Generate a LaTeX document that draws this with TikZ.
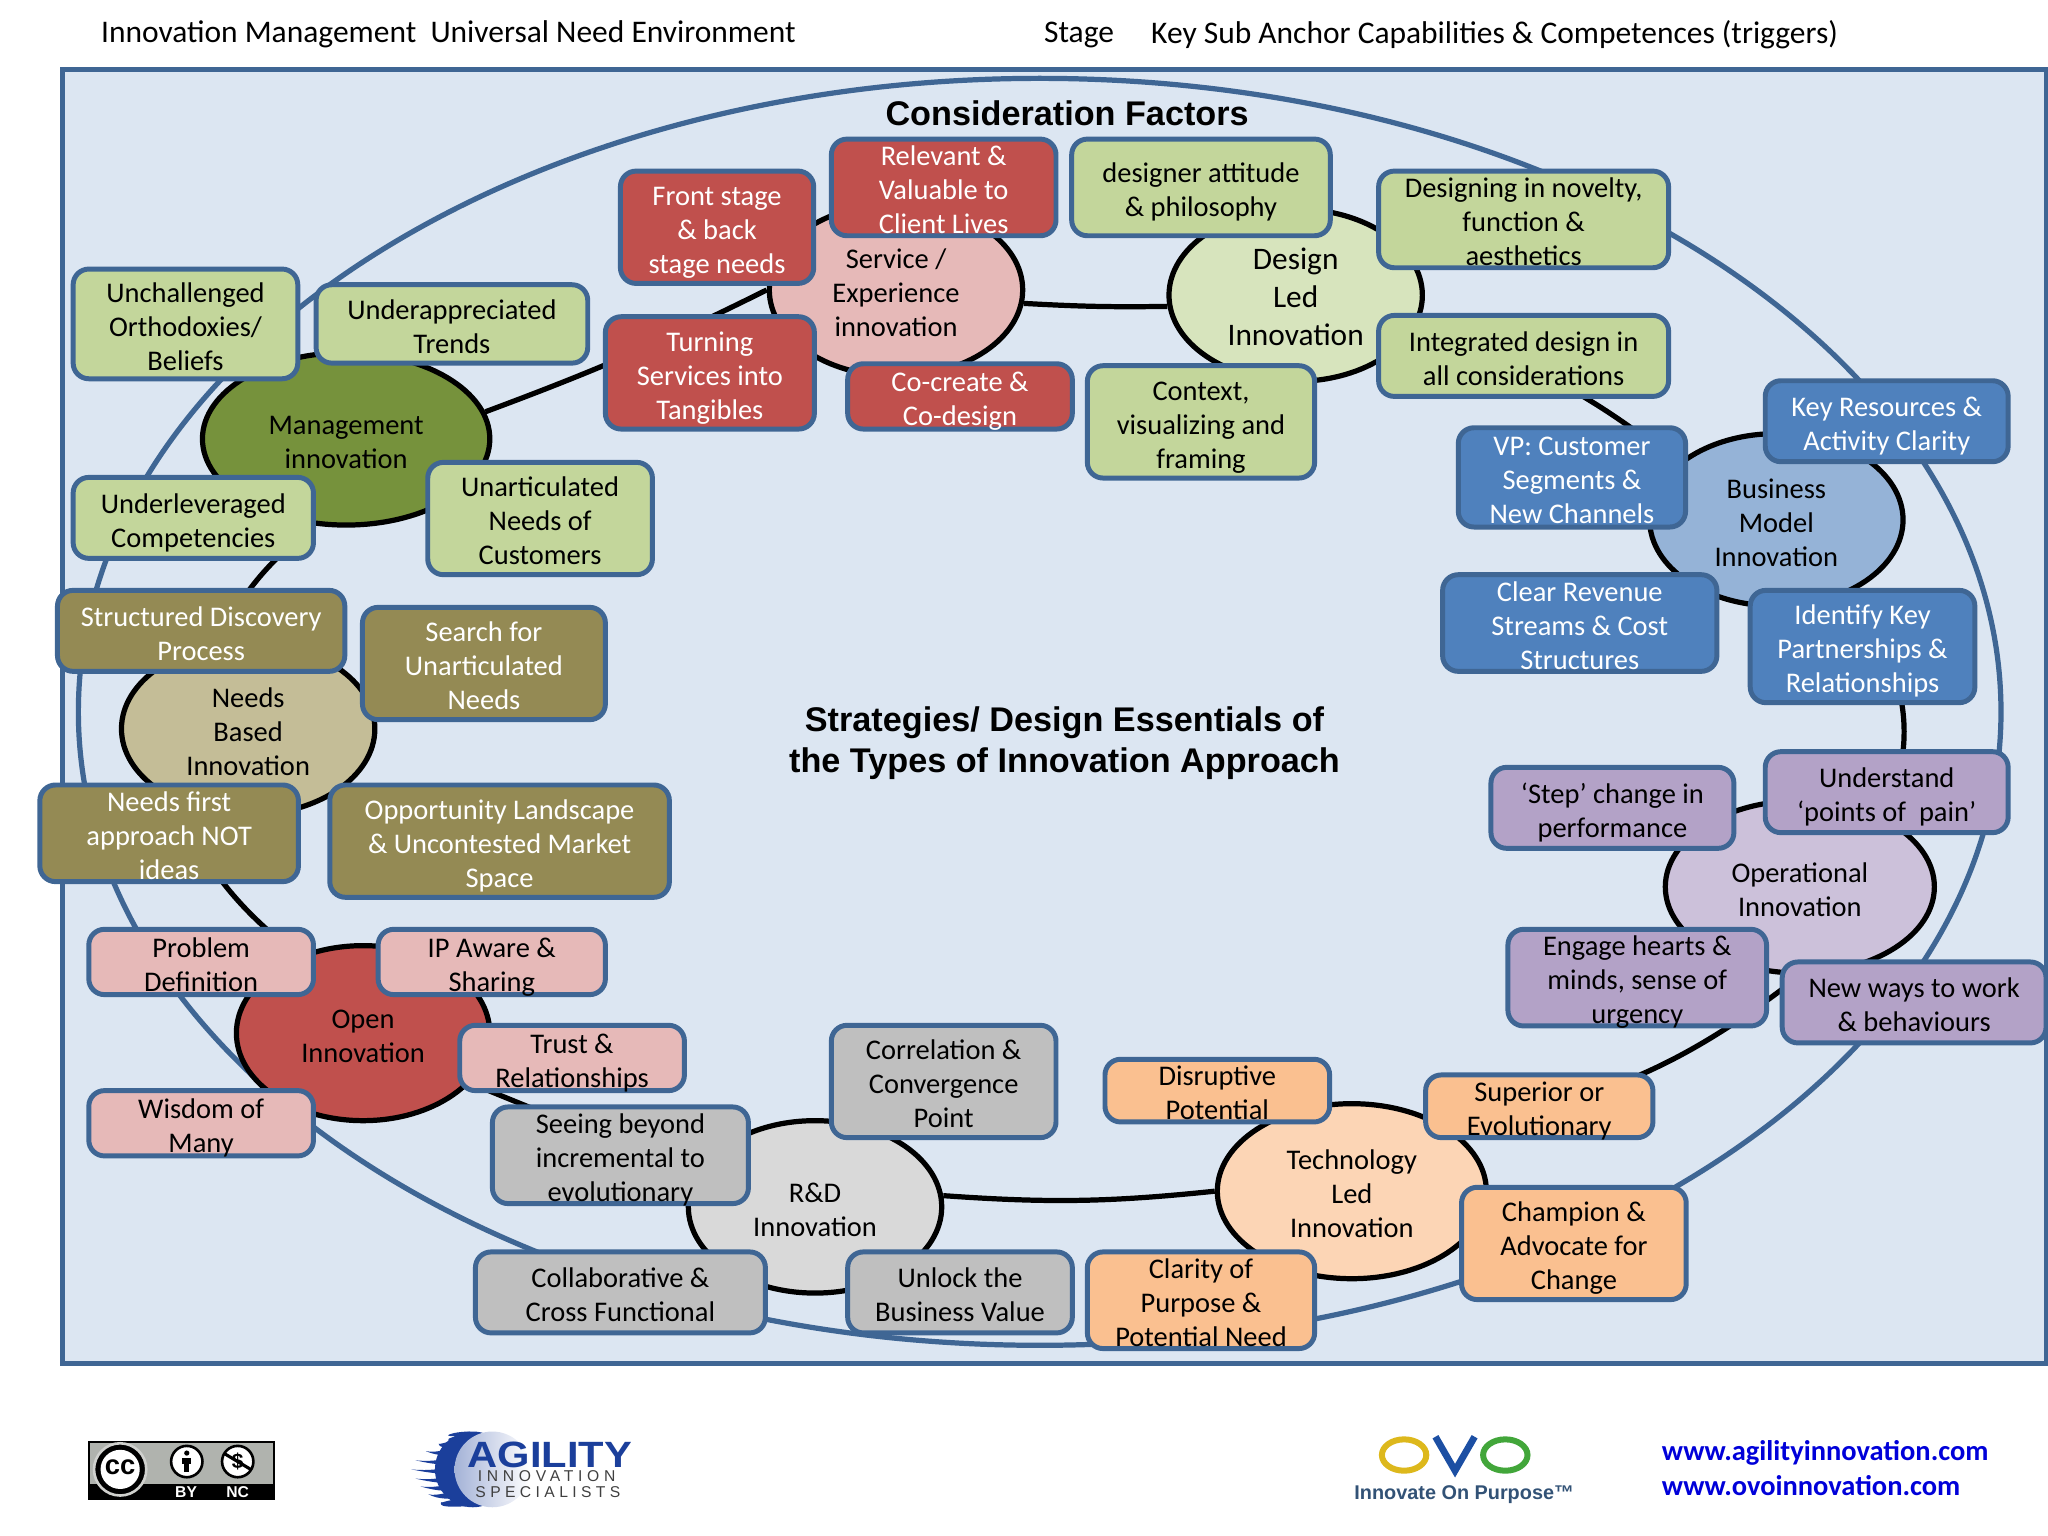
\documentclass[tikz,border=0pt]{standalone}
\usepackage{fontspec}
\setmainfont{Carlito}
\newfontfamily\headfont{Liberation Sans}
\newfontfamily\inniofont[LetterSpace=30]{Liberation Sans}
\newfontfamily\specfont[LetterSpace=28]{Liberation Sans}
\usetikzlibrary{shapes.geometric}

\definecolor{framecol}{HTML}{3F6694}
\definecolor{panelcol}{HTML}{DCE6F2}
\definecolor{greenbox}{HTML}{C3D69B}
\definecolor{redbox}{HTML}{C0504D}
\definecolor{olivebox}{HTML}{948A54}
\definecolor{pinkbox}{HTML}{E6B9B8}
\definecolor{greybox}{HTML}{BFBFBF}
\definecolor{orangebox}{HTML}{FAC090}
\definecolor{purplebox}{HTML}{B3A2C7}
\definecolor{bluebox}{HTML}{4F81BD}
\definecolor{mgmtoval}{HTML}{76923C}
\definecolor{designoval}{HTML}{D7E4BD}
\definecolor{businessoval}{HTML}{95B3D7}
\definecolor{operoval}{HTML}{CCC1DA}
\definecolor{techoval}{HTML}{FCD5B5}
\definecolor{rndoval}{HTML}{D9D9D9}
\definecolor{needsoval}{HTML}{C4BD97}
\definecolor{agilityblue}{HTML}{1B3F9B}
\definecolor{ovoyellow}{HTML}{DDB81C}
\definecolor{ovoblue}{HTML}{1C4FA3}
\definecolor{ovogreen}{HTML}{42A63A}
\definecolor{ccgrey}{HTML}{B0B3AE}

\tikzset{
	oval/.style={ellipse, draw=black, line width=2pt, inner sep=0pt, align=center,
		font=\fontsize{10.9}{13}\selectfont, text depth=0pt},
	ovalsize/.style 2 args={minimum width=#1pt, minimum height=#2pt},
	factor/.style={rectangle, rounded corners=6pt, draw=framecol, line width=1.9pt,
		inner sep=0pt, align=center, font=\fontsize{10.9}{13}\selectfont, text depth=0pt},
	sized/.style 2 args={minimum width=#1pt, minimum height=#2pt},
	twolines/.style={text height=22.4pt},
	threelines/.style={text height=35.4pt},
	ring/.style={draw=black, line width=2pt},
	heading/.style={inner sep=0pt, font=\fontsize{12.05}{14}\selectfont},
	bigbold/.style={inner sep=0pt, align=center, font=\headfont\bfseries\fontsize{13.1}{15.5}\selectfont},
	weblink/.style={inner sep=0pt, anchor=west, text=blue!85!black, font=\bfseries\fontsize{10.9}{13}\selectfont}
}

\begin{document}
\begin{tikzpicture}[x=0.5pt, y=-0.5pt]
\useasboundingbox (0,0) rectangle (1568,1176);

\node[heading, anchor=west] (headmanage) at (77,26.5) {Innovation Management\ \ Universal Need Environment};
\node[heading, anchor=west] (headstage) at (799,26.5) {Stage};
\node[heading, anchor=west] (headkey) at (881,26.5) {Key Sub Anchor Capabilities \& Competences (triggers)};

\draw[framecol, line width=2pt, fill=panelcol] (48,53) rectangle (1567,1044);
\draw[framecol, line width=2pt] (796,545) ellipse [x radius=736, y radius=485];

\node[bigbold] (consider) at (817,87) {Consideration Factors};
\node[bigbold] (strategies) at (815,569) {Strategies/ Design Essentials of\\the Types of Innovation Approach};

\node[oval, twolines, ovalsize={110}{66}, fill=mgmtoval] (management) at (265,336) {Management\\innovation};
\node[oval, threelines, ovalsize={97}{66}, fill=pinkbox] (service) at (686,222) {Service /\\Experience\\innovation};
\node[oval, ovalsize={97}{66}, fill=designoval, font=\fontsize{12}{14.5}\selectfont, text height=38.6pt] (design) at (992,226) {Design\\Led\\Innovation};
\node[oval, threelines, ovalsize={97}{66}, fill=businessoval] (business) at (1360,398) {Business\\Model\\Innovation};
\node[oval, twolines, ovalsize={103}{66}, fill=operoval] (operational) at (1378,679) {Operational\\Innovation};
\node[oval, threelines, ovalsize={103}{67}, fill=techoval] (technology) at (1035,912) {Technology\\Led\\Innovation};
\node[oval, twolines, ovalsize={97}{66}, fill=rndoval] (rnd) at (624,924) {R\&D\\Innovation};
\node[oval, twolines, ovalsize={97}{67}, fill=redbox] (open) at (278,791) {Open\\Innovation};
\node[oval, threelines, ovalsize={97}{66}, fill=needsoval] (needs) at (190,558) {Needs\\Based\\Innovation};

\draw[ring] (management.11) to[bend right=3] (service.west);
\draw[ring] (service.-6) to[bend right=2] (design.185);
\draw[ring] (design.-15) to[bend left=11] (business.150);
\draw[ring] (business.-50) to[bend left=37] (operational.40);
\draw[ring] (operational.-90) to[bend left=15] (technology.35);
\draw[ring] (technology.west) to[bend left=5] (rnd.5);
\draw[ring] (rnd.165) -- (open.-25);
\draw[ring] (needs.-135) to[bend right=13] (open.130);
\draw[ring] (needs.110) to[bend left=12] (management.-110);

\node[factor, threelines, sized={86}{42}, fill=greenbox] (unchallenged) at (142,248) {Unchallenged\\Orthodoxies/\\Beliefs};
\node[factor, twolines, sized={104}{30}, fill=greenbox] (underapp) at (346,248) {Underappreciated\\Trends};
\node[factor, twolines, sized={92}{31}, fill=greenbox] (underlev) at (148,396.5) {Underleveraged\\Competencies};
\node[factor, threelines, sized={86}{43}, fill=greenbox] (unartic) at (413.5,397) {Unarticulated\\Needs of\\Customers};

\node[factor, threelines, sized={74}{43}, fill=redbox, text=white] (frontstage) at (549,174) {Front stage\\\& back\\stage needs};
\node[factor, threelines, sized={86}{37}, fill=redbox, text=white] (relevant) at (722.5,143.5) {Relevant \&\\Valuable to\\Client Lives};
\node[factor, threelines, sized={80}{43}, fill=redbox, text=white] (turning) at (543.5,285.5) {Turning\\Services into\\Tangibles};
\node[factor, twolines, sized={86}{25}, fill=redbox, text=white] (cocreate) at (735,303.5) {Co-create \&\\Co-design};

\node[factor, twolines, sized={99}{37}, fill=greenbox] (attitude) at (919.5,143.5) {designer attitude\\\& philosophy};
\node[factor, threelines, sized={111}{37}, fill=greenbox] (novelty) at (1166.5,168) {Designing in novelty,\\function \&\\aesthetics};
\node[factor, twolines, sized={111}{31}, fill=greenbox] (integrated) at (1166.5,272.5) {Integrated design in\\all considerations};
\node[factor, threelines, sized={87}{43}, fill=greenbox] (context) at (919.5,323) {Context,\\visualizing and\\framing};

\node[factor, threelines, sized={87}{38}, fill=bluebox, text=white] (vp) at (1203.5,365.5) {VP: Customer\\Segments \&\\New Channels};
\node[factor, twolines, sized={93}{31}, fill=bluebox, text=white] (resources) at (1444.5,322.5) {Key Resources \&\\Activity Clarity};
\node[factor, threelines, sized={105}{37}, fill=bluebox, text=white] (revenue) at (1209.5,477) {Clear Revenue\\Streams \& Cost\\Structures};
\node[factor, threelines, sized={86}{43}, fill=bluebox, text=white] (partners) at (1426,495) {Identify Key\\Partnerships \&\\Relationships};

\node[factor, twolines, sized={93}{31}, fill=purplebox] (pain) at (1444.5,606.5) {Understand\\‘points of\ \ pain’};
\node[factor, twolines, sized={93}{31}, fill=purplebox] (stepchange) at (1234.5,618.5) {‘Step’ change in\\performance};
\node[factor, threelines, sized={99}{37}, fill=purplebox] (engage) at (1253.5,748.5) {Engage hearts \&\\minds, sense of\\urgency};
\node[factor, twolines, sized={101}{31}, fill=purplebox] (newways) at (1465.5,767.5) {New ways to work\\\& behaviours};

\node[factor, twolines, sized={86}{24}, fill=orangebox] (disruptive) at (932,835) {Disruptive\\Potential};
\node[factor, twolines, sized={87}{24}, fill=orangebox] (superior) at (1178.5,847) {Superior or\\Evolutionary};
\node[factor, threelines, sized={86}{43}, fill=orangebox] (champion) at (1205,952) {Champion \&\\Advocate for\\Change};
\node[factor, threelines, sized={87}{37}, fill=orangebox] (clarity) at (919.5,995.5) {Clarity of\\Purpose \&\\Potential Need};

\node[factor, threelines, sized={98}{37}, fill=greybox] (seeing) at (475,884.5) {Seeing beyond\\incremental to\\evolutionary};
\node[factor, threelines, sized={86}{43}, fill=greybox] (correlation) at (722.5,828) {Correlation \&\\Convergence\\Point};
\node[factor, twolines, sized={111}{31}, fill=greybox] (collab) at (475,989.5) {Collaborative \&\\Cross Functional};
\node[factor, twolines, sized={86}{31}, fill=greybox] (unlock) at (735,989.5) {Unlock the\\Business Value};

\node[factor, twolines, sized={86}{25}, fill=pinkbox] (problem) at (154,736.5) {Problem\\Definition};
\node[factor, twolines, sized={87}{25}, fill=pinkbox] (ipaware) at (376.5,736.5) {IP Aware \&\\Sharing};
\node[factor, twolines, sized={86}{25}, fill=pinkbox] (trust) at (438,810) {Trust \&\\Relationships};
\node[factor, twolines, sized={86}{25}, fill=pinkbox] (wisdom) at (154,860) {Wisdom of\\Many};

\node[factor, twolines, sized={110}{31}, fill=olivebox, text=white] (structured) at (154,483) {Structured Discovery\\Process};
\node[factor, threelines, sized={93}{43}, fill=olivebox, text=white] (search) at (370.5,508) {Search for\\Unarticulated\\Needs};
\node[factor, threelines, sized={99}{37}, fill=olivebox, text=white] (needsfirst) at (129.5,638) {Needs first\\approach NOT\\ideas};
\node[factor, threelines, sized={130}{43}, fill=olivebox, text=white] (landscape) at (382.5,644) {Opportunity Landscape\\\& Uncontested Market\\Space};

\fill[black] (67.5,1103.5) rectangle (210.5,1148.5);
\fill[ccgrey] (69,1105) rectangle (209,1136);
\draw[ccgrey!60!white, line width=1pt, fill=black] (92,1125) circle [radius=20];
\fill[white] (92,1125) circle [radius=15];
\node[inner sep=0pt, font=\headfont\bfseries\fontsize{10.5}{10}\selectfont] (cctext) at (92,1123) {cc};
\draw[black, line width=1pt, fill=white] (143,1119) circle [radius=12];
\fill[black] (143,1112.5) circle [radius=2];
\fill[black] (139.5,1116) rectangle (146.5,1121);
\fill[black] (141,1121) rectangle (145,1127);
\draw[black, line width=1pt, fill=white] (182,1119) circle [radius=12];
\node[inner sep=0pt, font=\headfont\bfseries\fontsize{8}{8}\selectfont] (nctext) at (182,1119) {\$};
\draw[black, line width=1.2pt] (172,1113) -- (192,1125);
\node[inner sep=0pt, text=white, font=\headfont\bfseries\fontsize{6}{6}\selectfont] (bytext) at (142.5,1142.5) {BY};
\node[inner sep=0pt, text=white, font=\headfont\bfseries\fontsize{6}{6}\selectfont] (nclabel) at (182,1142.5) {NC};

\foreach \y/\tip in {1099/352,1105/336,1111/326,1118/318,1125/315,1132/318,1138/322,1144/328,1150/338}
	\fill[agilityblue] (360,\y-3) .. controls (345,\y-3) and (335,\y+2) .. (\tip,\y) .. controls (335,\y+4) and (345,\y+4) .. (360,\y+3);
\fill[agilityblue] (362,1125) circle [radius=29];
\shade[left color=agilityblue!40!white, right color=white] (377,1125) circle [radius=29];
\node[inner sep=0pt, text=agilityblue, xscale=1.14, font=\headfont\bfseries\fontsize{14}{14}\selectfont] (agility) at (421,1114) {AGILITY};
\node[inner sep=0pt, text=black!75, font=\inniofont\fontsize{6}{6}\selectfont] (innovation) at (418.5,1130.5) {INNOVATION};
\node[inner sep=0pt, text=black!75, font=\specfont\fontsize{6}{6}\selectfont] (specialists) at (419.5,1142) {SPECIALISTS};

\draw[ovoyellow, line width=2.3pt] (1075,1114) ellipse [x radius=17, y radius=12];
\draw[ovoblue, line width=2.6pt] (1099,1100) -- (1114,1126) -- (1129,1100);
\draw[ovogreen, line width=2.3pt] (1152.5,1114) ellipse [x radius=17, y radius=12];
\node[inner sep=0pt, text=framecol!80!black, font=\headfont\bfseries\fontsize{7.6}{8}\selectfont] (purpose) at (1121,1144) {Innovate On Purpose™};

\node[weblink] (agilityweb) at (1272,1112) {www.agilityinnovation.com};
\node[weblink] (ovoweb) at (1272,1137.5) {www.ovoinnovation.com};
\end{tikzpicture}
\end{document}
